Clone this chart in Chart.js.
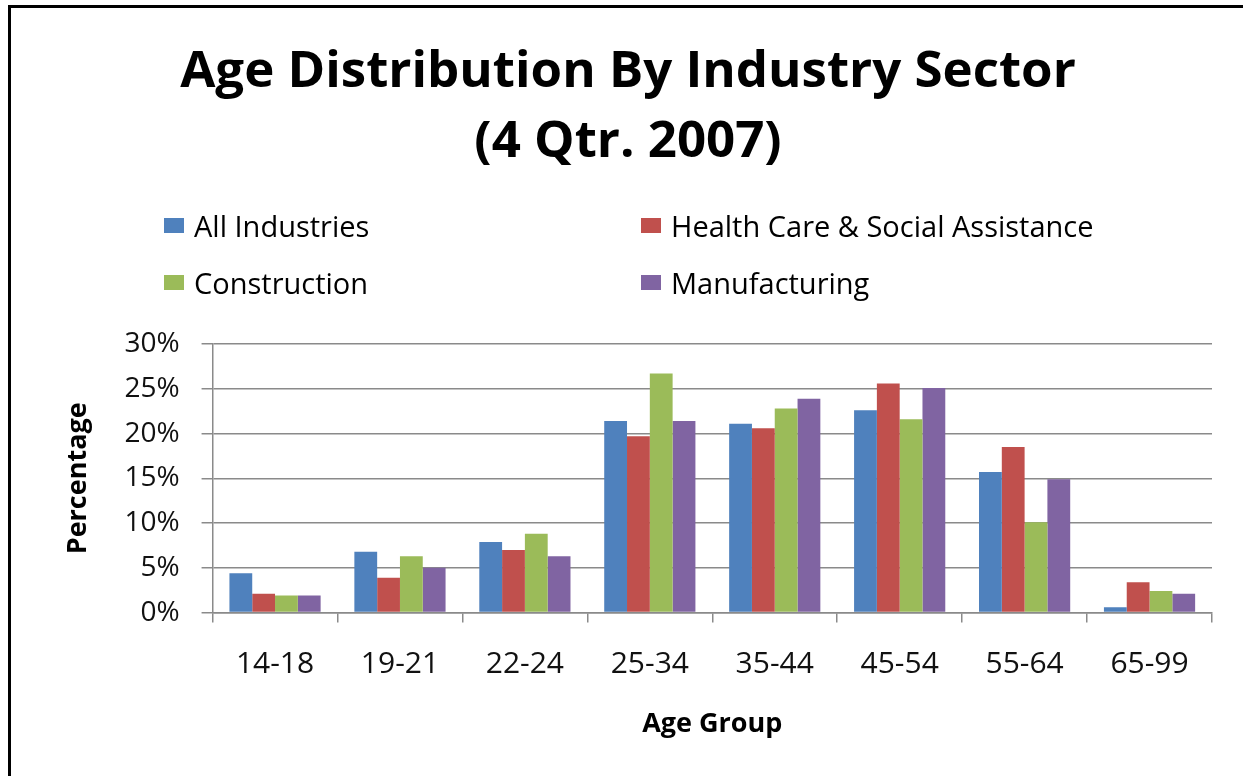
<!doctype html>
<html lang="en">
	<head>
		<meta charset="UTF-8" />
		<title>Age Distribution By Industry Sector</title>
		<script src="https://cdn.jsdelivr.net/npm/chart.js"></script>
		<style>
			body {
				margin: 0;
				background: #fff;
				font-family: 'Open Sans', sans-serif;
			}
			#wrap {
				position: relative;
				width: 1243px;
				height: 776px;
				overflow: hidden;
			}
			#frame {
				position: absolute;
				left: 8px;
				top: 5px;
				width: 1300px;
				height: 900px;
				border-top: 3px solid #000;
				border-left: 3px solid #000;
			}
			#legend {
				position: absolute;
				left: 164px;
				top: 205px;
				display: grid;
				grid-template-columns: 477px auto;
				row-gap: 17px;
				font-size: 29px;
				color: #000;
			}
			.item {
				display: flex;
				align-items: center;
				height: 40px;
			}
			.box {
				width: 20px;
				height: 15px;
				margin-right: 10px;
			}
			canvas {
				position: absolute;
				left: 0;
				top: 0;
			}
		</style>
	</head>
	<body>
		<div id="wrap">
			<div id="frame"></div>
			<canvas id="chart" width="1243" height="776"></canvas>
			<div id="legend"></div>
		</div>

		<script>
			const ageGroups = ['14-18', '19-21', '22-24', '25-34', '35-44', '45-54', '55-64', '65-99']
			const seriesNames = ['All Industries', 'Health Care & Social Assistance', 'Construction', 'Manufacturing']
			const seriesColors = ['#4F81BD', '#C0504D', '#9BBB59', '#8064A2']

			// percentages
			const allIndustries = [4.4, 6.8, 7.9, 21.4, 21.1, 22.6, 15.7, 0.6]
			const healthCare = [2.1, 3.9, 7.0, 19.7, 20.6, 25.6, 18.5, 3.4]
			const construction = [1.9, 6.3, 8.8, 26.7, 22.8, 21.6, 10.1, 2.4]
			const manufacturing = [1.9, 5.0, 6.3, 21.4, 23.9, 25.1, 14.9, 2.1]

			const yTicks = [0, 5, 10, 15, 20, 25, 30]

			const seriesValues = [allIndustries, healthCare, construction, manufacturing]
			const grey = '#8a8a8a'

			// legend in two columns, like the original
			const legend = document.getElementById('legend')
			seriesNames.forEach((name, i) => {
				const item = document.createElement('div')
				item.className = 'item'
				const box = document.createElement('span')
				box.className = 'box'
				box.style.background = seriesColors[i]
				const label = document.createElement('span')
				label.textContent = name
				item.appendChild(box)
				item.appendChild(label)
				legend.appendChild(item)
			})

			new Chart(document.getElementById('chart'), {
				type: 'bar',
				data: {
					labels: ageGroups,
					datasets: seriesNames.map((name, i) => ({
						label: name,
						data: seriesValues[i],
						backgroundColor: seriesColors[i],
						categoryPercentage: 0.73,
						barPercentage: 1
					}))
				},
				options: {
					responsive: false,
					animation: false,
					layout: { padding: { top: 0, left: 44, right: 31, bottom: 35 } },
					plugins: {
						legend: { display: false },
						tooltip: { enabled: false },
						title: {
							display: true,
							text: ['Age Distribution By Industry Sector', '(4 Qtr. 2007)'],
							color: '#000',
							font: { family: 'Open Sans', size: 51, weight: 'bold', lineHeight: 1.373 },
							padding: { top: 37, bottom: 167 }
						}
					},
					scales: {
						x: {
							grid: {
								display: true,
								drawOnChartArea: false,
								drawTicks: true,
								tickLength: 10,
								color: grey,
								lineWidth: 1.5
							},
							border: { color: grey, width: 1.5 },
							ticks: {
								color: '#111',
								padding: 24,
								font: { family: 'Open Sans', size: 30 }
							},
							title: {
								display: true,
								text: 'Age Group',
								color: '#000',
								font: { family: 'Open Sans', size: 27, weight: 'bold' },
								padding: { top: 2, bottom: 0 }
							}
						},
						y: {
							min: 0,
							max: 30,
							afterBuildTicks: (axis) => {
								axis.ticks = yTicks.map((v) => ({ value: v }))
							},
							grid: {
								color: grey,
								lineWidth: 1.5,
								drawTicks: true,
								tickLength: 11
							},
							border: { color: grey, width: 1.5 },
							ticks: {
								color: '#111',
								padding: 22,
								font: { family: 'Open Sans', size: 28 },
								callback: (v) => v + '%'
							},
							title: {
								display: true,
								text: 'Percentage',
								color: '#000',
								font: { family: 'Open Sans', size: 27, weight: 'bold' },
								padding: { top: 18, bottom: 8 }
							}
						}
					}
				}
			})
		</script>
	</body>
</html>
